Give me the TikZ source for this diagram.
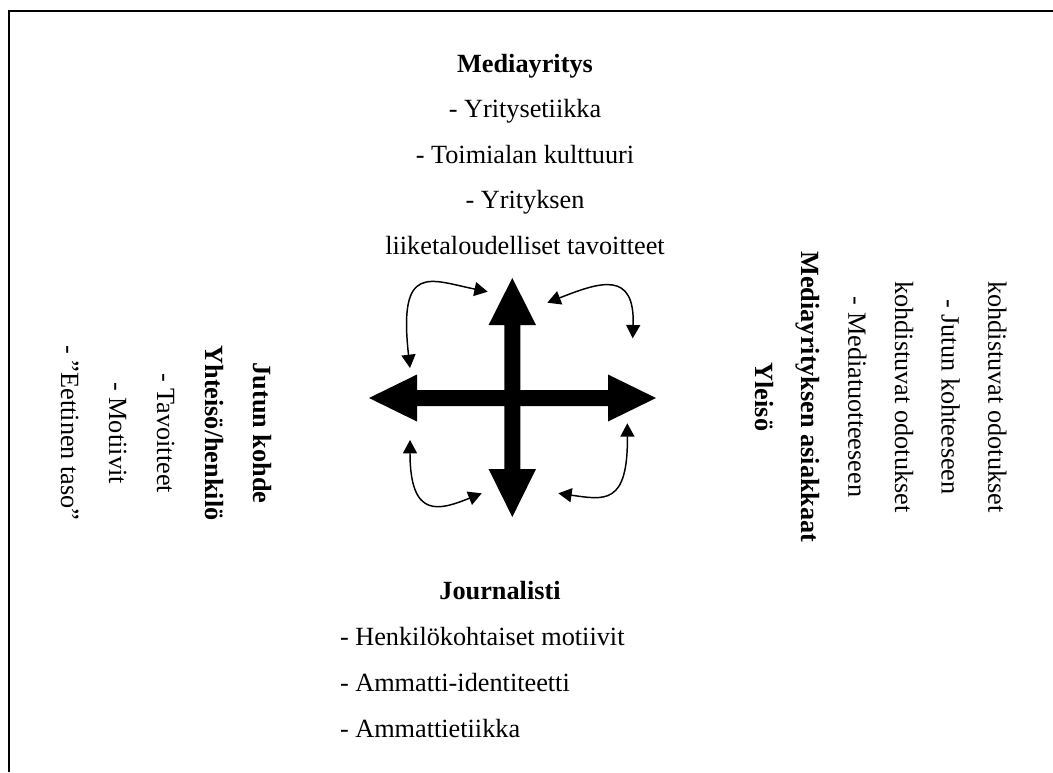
\documentclass[tikz,border=0pt]{standalone}
\usepackage{fontspec}
\setmainfont{Liberation Serif}
\usetikzlibrary{arrows.meta}
\begin{document}
\begin{tikzpicture}[x=0.75pt,y=-0.75pt,
  txt/.style={inner sep=0pt,outer sep=0pt,font=\fontsize{19.7}{23}\selectfont},
  hd/.style={inner sep=0pt,outer sep=0pt,font=\fontsize{19.7}{23}\selectfont\bfseries},
  crossarrow/.style={fill=black,draw=none},
  loop/.style={line width=1.1pt,{Triangle[length=10pt,width=10.5pt]}-{Triangle[length=10pt,width=10.5pt]}},
  frame/.style={line width=1.6pt,line join=miter}]
\useasboundingbox (0,0) rectangle (1053,772);
% frame
\draw[frame] (8.7,772) -- (8.7,11) -- (1053,11);
% central cross
\fill[crossarrow] (512.3,278) -- (536,325) -- (520.3,325) -- (520.3,390) -- (608,390) -- (608,374.5)
  -- (656,398) -- (608,421.5) -- (608,406) -- (520.3,406) -- (520.3,469) -- (536,469)
  -- (512.3,517) -- (488.6,469) -- (504.3,469) -- (504.3,406) -- (417,406) -- (417,421.5)
  -- (369,398) -- (417,374.5) -- (417,390) -- (504.3,390) -- (504.3,325) -- (488.6,325) -- cycle;
% curved arrows
\coordinate (tlA) at (410,368);   \coordinate (tlB) at (487.7,291.7);
\coordinate (trA) at (547.3,302.7); \coordinate (trB) at (632.7,338.3);
\coordinate (blA) at (410,440);   \coordinate (blB) at (481.7,493.3);
\coordinate (brA) at (627.3,423.3); \coordinate (brB) at (558.3,493.3);
\draw[loop] (tlA) .. controls (398,262) and (430,280) .. (tlB);
\draw[loop] (trA) .. controls (600,282) and (635,270) .. (trB);
\draw[loop] (blA) .. controls (410,520) and (440,510) .. (blB);
\draw[loop] (brA) .. controls (628,505) and (605,500) .. (brB);
% top block
\node[hd,anchor=base] (media) at (525,72) {Mediayritys};
\node[txt,anchor=base] (m1) at (525,117.5) {- Yritysetiikka};
\node[txt,anchor=base] (m2) at (525,163) {- Toimialan kulttuuri};
\node[txt,anchor=base] (m3) at (525,208.5) {- Yrityksen};
\node[txt,anchor=base] (m4) at (525,254) {liiketaloudelliset tavoitteet};
% bottom block
\node[hd,anchor=base] (jour) at (500,599) {Journalisti};
\node[txt,anchor=base west] (j1) at (340,645) {- Henkilökohtaiset motiivit};
\node[txt,anchor=base west] (j2) at (340,691.5) {- Ammatti-identiteetti};
\node[txt,anchor=base west] (j3) at (340,737) {- Ammattietiikka};
% left block
\node[hd,anchor=base,rotate=-90] (kohde) at (253,433) {Jutun kohde};
\node[hd,anchor=base,rotate=-90] (k1) at (205,433) {Yhteisö/henkilö};
\node[txt,anchor=base,rotate=-90] (k2) at (157,433) {- Tavoitteet};
\node[txt,anchor=base,rotate=-90] (k3) at (109,433) {- Motiivit};
\node[txt,anchor=base,rotate=-90] (k4) at (61,433) {- "Eettinen taso"};
% right block
\node[hd,anchor=base,rotate=-90] (yleiso) at (755,397) {Yleisö};
\node[hd,anchor=base,rotate=-90] (y1) at (801.7,397) {Mediayrityksen asiakkaat};
\node[txt,anchor=base,rotate=-90] (y2) at (848.3,397) {- Mediatuotteeseen};
\node[txt,anchor=base,rotate=-90] (y3) at (895,397) {kohdistuvat odotukset};
\node[txt,anchor=base,rotate=-90] (y4) at (941.7,397) {- Jutun kohteeseen};
\node[txt,anchor=base,rotate=-90] (y5) at (988.3,397) {kohdistuvat odotukset};
\end{tikzpicture}
\end{document}
